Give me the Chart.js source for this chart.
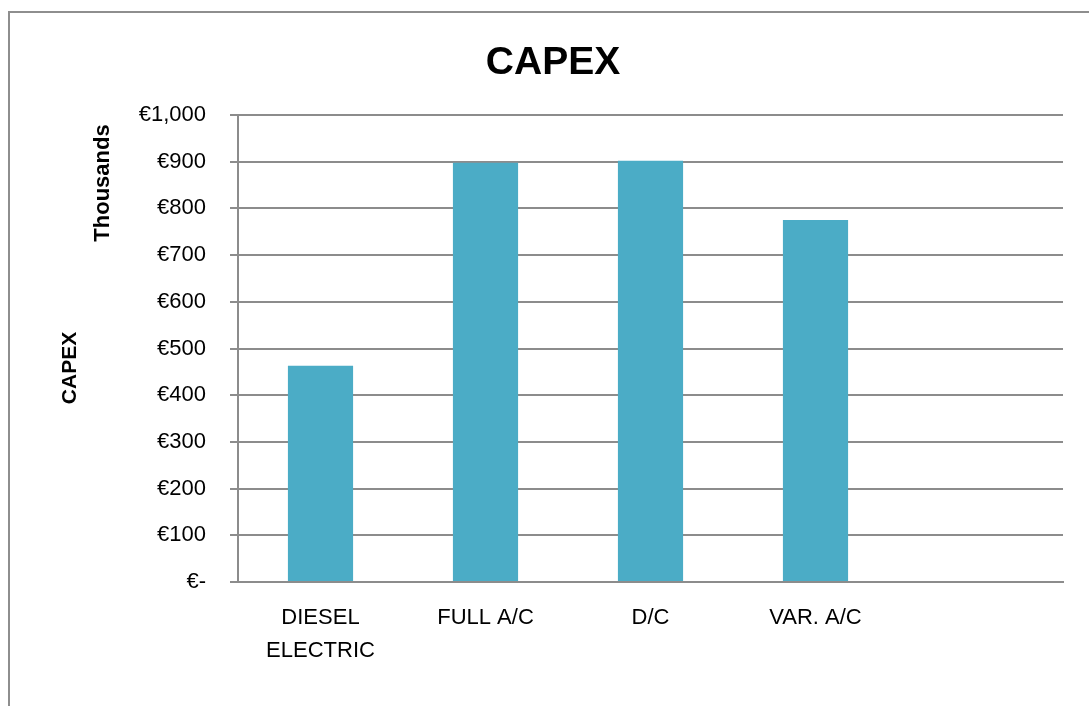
<!DOCTYPE html>
<html>
<head>
<meta charset="utf-8">
<script src="https://cdn.jsdelivr.net/npm/chart.js@4/dist/chart.umd.min.js"></script>
<style>
  html, body { margin: 0; padding: 0; background: #fff; overflow: hidden; }
  #wrap { position: relative; width: 1089px; height: 706px; }
  #frame { position: absolute; left: 8px; top: 11px; width: 1200px; height: 800px; border: 2px solid #8e8e8e; box-sizing: border-box; }
  canvas { position: absolute; left: 0; top: 0; }
</style>
</head>
<body>
<div id="wrap">
  <div id="frame"></div>
  <canvas id="chart" width="1089" height="706"></canvas>
</div>
<script>
// values in thousands of euros
const categories = [["DIESEL", "ELECTRIC"], "FULL A/C", "D/C", "VAR. A/C", ""];
const capex = [463, 898, 902, 775, null];
const yTicks = [0, 100, 200, 300, 400, 500, 600, 700, 800, 900, 1000];

const FONT = "'Liberation Sans', Arial, sans-serif";
const GRID = "#8c8c8c";

// title and the two separate axis captions, placed like the original sheet
const captions = {
  id: "captions",
  afterDraw(chart) {
    const ctx = chart.ctx;
    const put = (text, x, y, size, rotate) => {
      ctx.save();
      ctx.fillStyle = "#000";
      ctx.font = "bold " + size + "px " + FONT;
      ctx.textAlign = "center";
      ctx.textBaseline = "middle";
      ctx.translate(x, y);
      if (rotate) ctx.rotate(-Math.PI / 2);
      ctx.fillText(text, 0, 0);
      ctx.restore();
    };
    put("CAPEX", 553, 63, 39, false);
    put("CAPEX", 70, 368, 21, true);
    put("Thousands", 103, 183, 22, true);
  }
};

const chart = new Chart(document.getElementById("chart"), {
  type: "bar",
  data: {
    labels: categories,
    datasets: [
      {
        label: "CAPEX",
        data: capex,
        backgroundColor: "#4BACC6",
        borderWidth: 0,
        barPercentage: 0.79,
        categoryPercentage: 0.5,
      },
    ],
  },
  options: {
    responsive: false,
    animation: false,
    layout: { padding: { left: 0, right: 26, top: 115, bottom: 0 } },
    plugins: {
      legend: { display: false },
      tooltip: { enabled: false },
      title: { display: false },
    },
    scales: {
      x: {
        grid: { display: false },
        border: { display: true, color: GRID, width: 2 },
        ticks: {
          color: "#000",
          font: { family: FONT, size: 22, lineHeight: 1.5 },
          padding: 11,
          maxRotation: 0,
          autoSkip: false,
        },
        afterFit(scale) { scale.height = 124; },
      },
      y: {
        min: 0,
        max: 1000,
        afterBuildTicks(scale) { scale.ticks = yTicks.map(v => ({ value: v })); },
        grid: { color: GRID, lineWidth: 2, tickLength: 8 },
        border: { display: true, color: GRID, width: 2 },
        ticks: {
          color: "#000",
          font: { family: FONT, size: 22 },
          padding: 24,
          callback: v => v === 0 ? "€-" : "€" + v.toLocaleString("en-US"),
        },
        afterFit(scale) { scale.width = 238; },
      },
    },
  },
  plugins: [captions],
});
</script>
</body>
</html>
